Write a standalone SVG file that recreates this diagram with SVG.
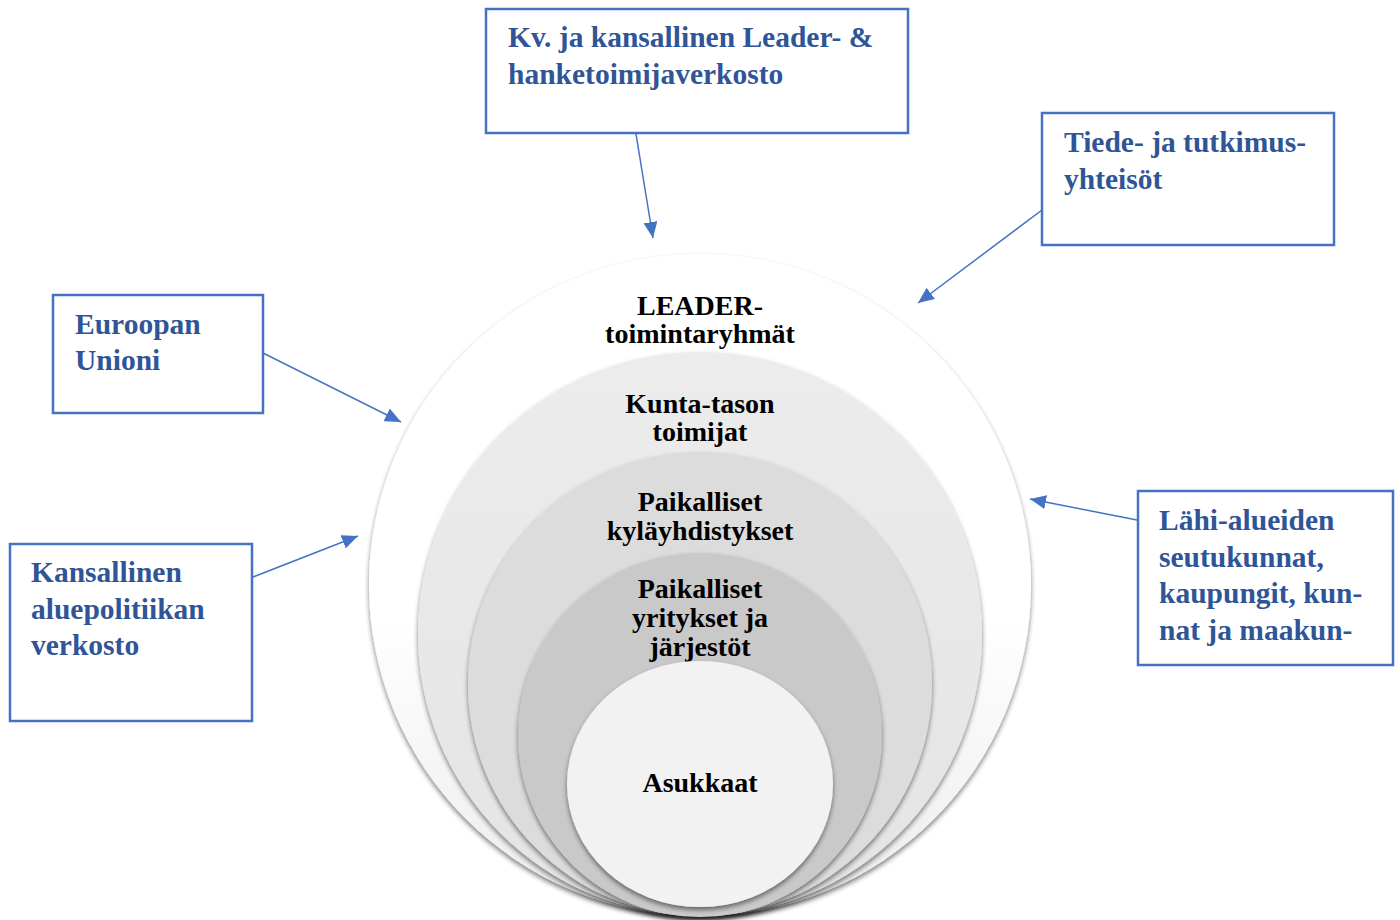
<svg xmlns="http://www.w3.org/2000/svg" width="1400" height="920" viewBox="0 0 1400 920">
<style>
.box{fill:#fff;stroke:#4472C4;stroke-width:2.5}
.bt{font-family:"Liberation Serif","Times New Roman",serif;font-weight:bold;font-size:29.5px;fill:#2F5597}
.ct{font-family:"Liberation Serif","Times New Roman",serif;font-weight:bold;font-size:28px;fill:#000;text-anchor:middle}
.conn{stroke:#4472C4;stroke-width:1.5;fill:none;marker-end:url(#arr)}
.ring{filter:url(#sh)}
</style>
<defs>
<marker id="arr" markerUnits="userSpaceOnUse" markerWidth="17" markerHeight="14" refX="16" refY="7" orient="auto">
<path d="M0,0 L16,7 L0,14 z" fill="#4472C4"/>
</marker>
<filter id="sh" x="-10%" y="-10%" width="120%" height="125%">
<feGaussianBlur in="SourceAlpha" stdDeviation="2.5"/>
<feOffset dx="0" dy="2.5" result="b"/>
<feComponentTransfer><feFuncA type="linear" slope="0.5"/></feComponentTransfer>
<feMerge><feMergeNode/><feMergeNode in="SourceGraphic"/></feMerge>
</filter>
<linearGradient id="g1" x1="0" y1="0" x2="0" y2="1">
<stop offset="0" stop-color="#ffffff"/><stop offset="0.55" stop-color="#ffffff"/><stop offset="1" stop-color="#ececec"/>
</linearGradient>
<linearGradient id="g2" x1="0" y1="0" x2="0" y2="1">
<stop offset="0" stop-color="#ececec"/><stop offset="1" stop-color="#e4e4e4"/>
</linearGradient>
</defs>

<g id="rings">
<g id="leader"><circle class="ring" cx="700" cy="585" r="331" fill="url(#g1)"/>
<text class="ct" x="700" y="315">LEADER-</text><text class="ct" x="700" y="343">toimintaryhmät</text></g>
<g id="kunta"><circle class="ring" cx="700" cy="634" r="282" fill="url(#g2)"/>
<text class="ct" x="700" y="413">Kunta-tason</text><text class="ct" x="700" y="441">toimijat</text></g>
<g id="kyla"><circle class="ring" cx="700" cy="684" r="232" fill="#dcdcdc"/>
<text class="ct" x="700" y="511">Paikalliset</text><text class="ct" x="700" y="540">kyläyhdistykset</text></g>
<g id="yritykset"><circle class="ring" cx="700" cy="735" r="182" fill="#c9c9c9"/>
<text class="ct" x="700" y="598">Paikalliset</text><text class="ct" x="700" y="627">yritykset ja</text><text class="ct" x="700" y="656">järjestöt</text></g>
<g id="asukkaat"><ellipse class="ring" cx="700" cy="784" rx="133" ry="123" fill="#f2f2f2"/>
<text class="ct" x="700" y="792">Asukkaat</text></g>
</g>

<g id="connectors">
<line class="conn" x1="636" y1="134" x2="653" y2="238"/>
<line class="conn" x1="1042" y1="210" x2="918" y2="303"/>
<line class="conn" x1="263" y1="353" x2="401" y2="422"/>
<line class="conn" x1="253" y1="577" x2="358" y2="536"/>
<line class="conn" x1="1137" y1="520" x2="1030" y2="499"/>
</g>

<g id="kv"><rect class="box" x="486" y="9" width="422" height="124"/>
<text class="bt" x="508" y="47">Kv. ja kansallinen Leader- &amp;</text>
<text class="bt" x="508" y="84">hanketoimijaverkosto</text></g>

<g id="tiede"><rect class="box" x="1042" y="113" width="292" height="132"/>
<text class="bt" x="1064" y="152">Tiede- ja tutkimus-</text>
<text class="bt" x="1064" y="189">yhteisöt</text></g>

<g id="eu"><rect class="box" x="53" y="295" width="210" height="118"/>
<text class="bt" x="75" y="334">Euroopan</text>
<text class="bt" x="75" y="370">Unioni</text></g>

<g id="kansallinen"><rect class="box" x="10" y="544" width="242" height="177"/>
<text class="bt" x="31" y="582">Kansallinen</text>
<text class="bt" x="31" y="619">aluepolitiikan</text>
<text class="bt" x="31" y="655">verkosto</text></g>

<g id="lahi"><rect class="box" x="1138" y="491" width="255" height="174"/>
<text class="bt" x="1159" y="530">Lähi-alueiden</text>
<text class="bt" x="1159" y="567">seutukunnat,</text>
<text class="bt" x="1159" y="603">kaupungit, kun-</text>
<text class="bt" x="1159" y="640">nat ja maakun-</text></g>
</svg>
